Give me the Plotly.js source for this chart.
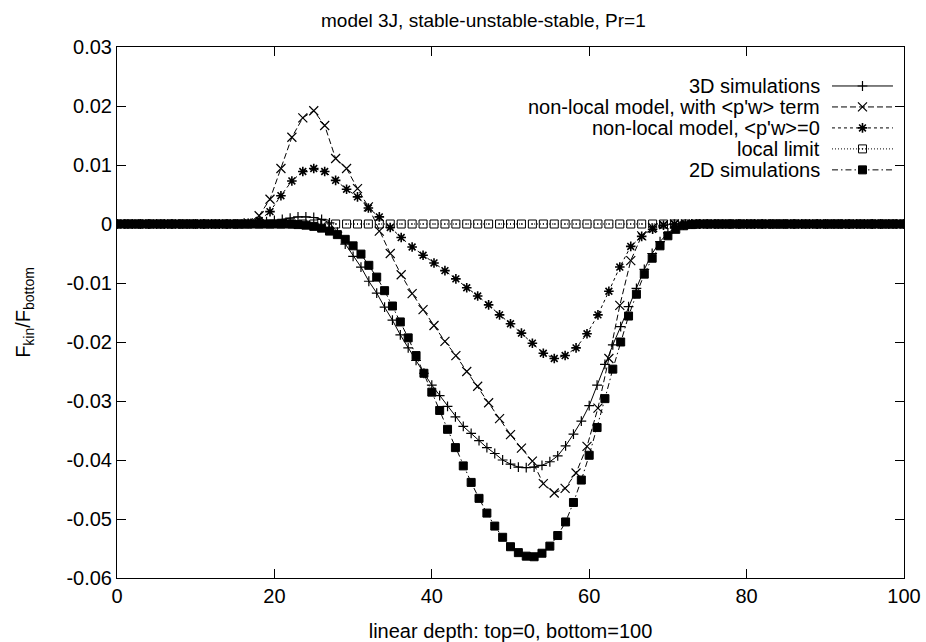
<!DOCTYPE html>
<html>
<head>
<meta charset="utf-8">
<script src="https://cdn.plot.ly/plotly-3.0.1.min.js"></script>
<style>html,body{margin:0;padding:0;background:#fff;}#chart{width:926px;height:642px;}</style>
</head>
<body>
<div id="chart"></div>
<script>
// ---------- data ----------
const chartTitle = "model 3J, stable-unstable-stable, Pr=1";
const xTitle = "linear depth: top=0, bottom=100";
const yTitle = "F<sub>kin</sub>/F<sub>bottom</sub>";

const seriesNames = [
  "3D simulations",
  "non-local model, with <p'w> term",
  "non-local model, <p'w>=0",
  "local limit",
  "2D simulations"
];

// simulation grid (depth 0..100, step 1)
const xSim = [0,1,2,3,4,5,6,7,8,9,10,11,12,13,14,15,16,17,18,19,20,21,22,23,24,25,26,27,28,29,30,
  31,32,33,34,35,36,37,38,39,40,41,42,43,44,45,46,47,48,49,50,51,52,53,54,55,56,57,58,59,60,
  61,62,63,64,65,66,67,68,69,70,71,72,73,74,75,76,77,78,79,80,81,82,83,84,85,86,87,88,89,90,
  91,92,93,94,95,96,97,98,99,100];

// model grid
const xModel = [0,1.39,2.78,4.17,5.56,6.94,8.33,9.72,11.11,12.5,13.89,15.28,16.67,18.06,19.44,20.83,
  22.22,23.61,25,26.39,27.78,29.17,30.56,31.94,33.33,34.72,36.11,37.5,38.89,40.28,41.67,43.06,
  44.44,45.83,47.22,48.61,50,51.39,52.78,54.17,55.56,56.94,58.33,59.72,61.11,62.5,63.89,65.28,
  66.67,68.06,69.44,70.83,72.22,73.61,75,76.39,77.78,79.17,80.56,81.94,83.33,84.72,86.11,87.5,
  88.89,90.28,91.67,93.06,94.44,95.83,97.22,98.61,100];

const sim3D = [0,0,0,0,0,0,0,0,0,0,0,0,0,0,0,0,0,
  0.0001,0.0002,0.0004,0.0006,0.0008,0.0010,0.0012,0.0012,0.0011,0.0008,0.0002,
  -0.0014,-0.0034,-0.0055,-0.0073,-0.0097,-0.0117,-0.0141,-0.0163,-0.0188,-0.0210,
  -0.0231,-0.0253,-0.0273,-0.0291,-0.0309,-0.0327,-0.0343,-0.0355,-0.0367,-0.0379,
  -0.0389,-0.0400,-0.0407,-0.0412,-0.0413,-0.0412,-0.0409,-0.0403,-0.0393,-0.0376,
  -0.0356,-0.0334,-0.0308,-0.0273,-0.0238,-0.0205,-0.0174,-0.0140,-0.0109,-0.0077,
  -0.0050,-0.0030,-0.0015,-0.0006,-0.0002,
  0,0,0,0,0,0,0,0,0,0,0,0,0,0,0,0,0,0,0,0,0,0,0,0,0,0,0,0];

const nonLocalPW = [0,0,0,0,0,0,0,0,0,0,0,0,
  0.0002,0.0014,0.0042,0.0094,0.0147,0.0180,0.0192,0.0167,0.0111,0.0094,0.0060,0.0029,
  -0.0012,-0.0050,-0.0086,-0.0118,-0.0145,-0.0172,-0.0199,-0.0223,-0.0250,-0.0275,
  -0.0303,-0.0330,-0.0357,-0.0380,-0.0402,-0.0440,-0.0456,-0.0448,-0.0422,-0.0377,
  -0.0312,-0.0228,-0.0138,-0.0062,-0.0020,-0.0006,-0.0001,
  0,0,0,0,0,0,0,0,0,0,0,0,0,0,0,0,0,0,0,0,0,0];

const nonLocalNoPW = [0,0,0,0,0,0,0,0,0,0,0,0,
  0.0001,0.0006,0.0021,0.0048,0.0073,0.0089,0.0094,0.0089,0.0074,0.0059,0.0046,0.0027,
  0.0012,-0.0006,-0.0023,-0.0039,-0.0053,-0.0066,-0.0079,-0.0093,-0.0108,-0.0122,
  -0.0137,-0.0154,-0.0169,-0.0185,-0.0202,-0.0219,-0.0228,-0.0223,-0.0210,-0.0186,
  -0.0154,-0.0114,-0.0073,-0.0038,-0.0021,-0.0009,-0.0002,
  0,0,0,0,0,0,0,0,0,0,0,0,0,0,0,0,0,0,0,0,0,0];

const localLimit = [0,0,0,0,0,0,0,0,0,0,0,0,0,0,0,0,0,0,0,0,0,0,0,0,0,0,0,0,0,0,0,0,0,0,0,0,
  0,0,0,0,0,0,0,0,0,0,0,0,0,0,0,0,0,0,0,0,0,0,0,0,0,0,0,0,0,0,0,0,0,0,0,0,0];

const sim2D = [0,0,0,0,0,0,0,0,0,0,0,0,0,0,0,0,0,0,0,0,0,0,0,
  -0.0001,-0.0002,-0.0004,-0.0007,-0.0012,-0.0018,-0.0026,-0.0037,-0.0051,-0.0070,
  -0.0090,-0.0113,-0.0139,-0.0166,-0.0193,-0.0223,-0.0253,-0.0285,-0.0316,-0.0348,
  -0.0379,-0.0410,-0.0438,-0.0465,-0.0490,-0.0512,-0.0531,-0.0547,-0.0557,-0.0563,
  -0.0564,-0.0558,-0.0546,-0.0528,-0.0505,-0.0472,-0.0434,-0.0392,-0.0345,-0.0296,
  -0.0246,-0.0200,-0.0156,-0.0119,-0.0085,-0.0058,-0.0037,-0.0020,-0.0009,-0.0003,-0.0001,
  0,0,0,0,0,0,0,0,0,0,0,0,0,0,0,0,0,0,0,0,0,0,0,0,0,0,0];

const xTickVals = [0,20,40,60,80,100];
const xTickText = ["0","20","40","60","80","100"];
const yTickVals = [0.03,0.02,0.01,0,-0.01,-0.02,-0.03,-0.04,-0.05,-0.06];
const yTickText = ["0.03","0.02","0.01","0","-0.01","-0.02","-0.03","-0.04","-0.05","-0.06"];

// ---------- styles ----------
const ink = "#000";
const styles = [
  {dash: "solid",              symbol: "cross-thin-open",  size: 7,  lw: 1.2},
  {dash: "6px,3px",            symbol: "x-thin-open",      size: 9,  lw: 1.2},
  {dash: "3px,3px",            symbol: "asterisk-open",    size: 8,  lw: 1.6},
  {dash: "1px,2px",            symbol: "square-open-dot",  size: 8,  lw: 1},
  {dash: "6px,3px,1.5px,3px",  symbol: "square",           size: 8,  lw: 1}
];
const xs = [xSim, xModel, xModel, xModel, xSim];
const ys = [sim3D, nonLocalPW, nonLocalNoPW, localLimit, sim2D];

const traces = [];
for (let i = 0; i < 5; i++) {
  const s = styles[i];
  traces.push({
    type: "scatter", mode: "lines+markers", name: seriesNames[i], showlegend: false,
    x: xs[i], y: ys[i],
    line: {color: ink, width: 1, dash: s.dash},
    marker: {symbol: s.symbol, size: s.size, color: ink, line: {color: ink, width: s.lw}},
    xaxis: "x", yaxis: "y", cliponaxis: true
  });
}

// ---------- custom gnuplot-style key ----------
const keyTop = 0.9266, keyStep = 0.0395, keyTextX = 0.8958;
const annotations = [];
for (let i = 0; i < 5; i++) {
  const yy = keyTop - i * keyStep;
  const s = styles[i];
  annotations.push({
    xref: "paper", yref: "paper", x: keyTextX, y: yy, xanchor: "right", yanchor: "middle",
    text: seriesNames[i].replace(/</g, "&lt;").replace(/>/g, "&gt;"),
    showarrow: false, font: {family: "Liberation Sans, Arial, sans-serif", size: 20, color: ink}
  });
  traces.push({
    type: "scatter", mode: "lines", showlegend: false, hoverinfo: "skip",
    x: [0, 1], y: [yy, yy], xaxis: "x2", yaxis: "y2",
    line: {color: ink, width: 1, dash: s.dash}
  });
  traces.push({
    type: "scatter", mode: "markers", showlegend: false, hoverinfo: "skip",
    x: [0.5], y: [yy], xaxis: "x2", yaxis: "y2",
    marker: {symbol: s.symbol, size: s.size, color: ink, line: {color: ink, width: s.lw}}
  });
}

const font = {family: "Liberation Sans, Arial, sans-serif", size: 20, color: ink};

const layout = {
  width: 926, height: 642,
  margin: {l: 117, r: 22, t: 47, b: 64, pad: 0},
  paper_bgcolor: "#fff", plot_bgcolor: "rgba(0,0,0,0)",
  font: font,
  showlegend: false,
  title: {text: chartTitle, font: {family: font.family, size: 19, color: ink},
          xref: "container", x: 0.522, xanchor: "center", yref: "container", y: 0.968, yanchor: "middle"},
  xaxis: {
    range: [0, 100], tickmode: "array", tickvals: xTickVals, ticktext: xTickText,
    ticks: "inside", ticklen: 9, tickwidth: 1, tickcolor: ink,
    showline: true, linecolor: ink, linewidth: 1, mirror: "ticks",
    showgrid: false, zeroline: false, tickfont: font,
    title: {text: xTitle, font: font, standoff: 17}
  },
  yaxis: {
    range: [-0.06, 0.03], tickmode: "array", tickvals: yTickVals, ticktext: yTickText,
    ticks: "inside", ticklen: 9, tickwidth: 1, tickcolor: ink,
    showline: true, linecolor: ink, linewidth: 1, mirror: "ticks",
    showgrid: false, zeroline: false, tickfont: font,
    title: {text: yTitle, font: font, standoff: 30}
  },
  xaxis2: {domain: [0.9085, 0.986], range: [0, 1], anchor: "y2", visible: false, fixedrange: true},
  yaxis2: {domain: [0, 1], range: [0, 1], anchor: "x2", visible: false, fixedrange: true},
  annotations: annotations
};

Plotly.newPlot("chart", traces, layout, {staticPlot: true, displayModeBar: false});
</script>
</body>
</html>
